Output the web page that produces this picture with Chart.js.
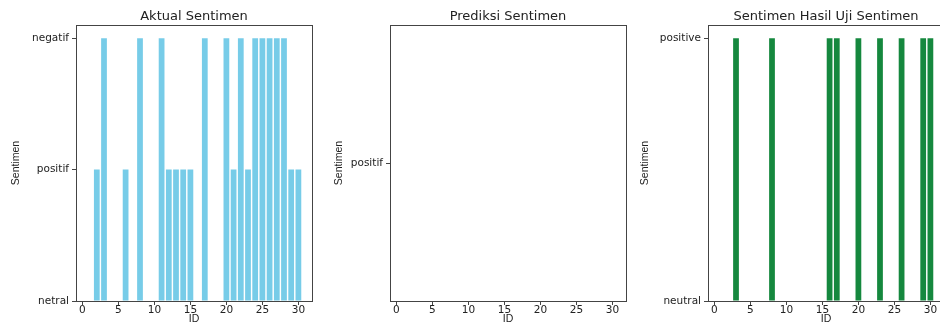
<!DOCTYPE html>
<html>
<head>
<meta charset="utf-8">
<script src="https://cdn.jsdelivr.net/npm/chart.js@4/dist/chart.umd.min.js"></script>
<style>
  html, body { margin: 0; padding: 0; background: #fff; overflow: hidden; }
  body { width: 940px; height: 325px; position: relative; }
  .panel { position: absolute; top: 0; width: 320px; height: 325px; }
</style>
</head>
<body>
<div class="panel" style="left:0px"><canvas id="aktualChart"></canvas></div>
<div class="panel" style="left:314px"><canvas id="prediksiChart"></canvas></div>
<div class="panel" style="left:632px"><canvas id="hasilChart"></canvas></div>
<script>
// IDs on the x axis
const ids = [1, 2, 3, 4, 5, 6, 7, 8, 9, 10, 11, 12, 13, 14, 15,
             16, 17, 18, 19, 20, 21, 22, 23, 24, 25, 26, 27, 28, 29, 30];
const xTicks = [0, 5, 10, 15, 20, 25, 30];

// category order = order of first appearance (matplotlib categorical axis)
const aktualCats = ['netral', 'positif', 'negatif'];
const aktual = ['netral', 'positif', 'negatif', 'netral', 'netral', 'positif', 'netral', 'negatif', 'netral', 'netral',
                'negatif', 'positif', 'positif', 'positif', 'positif', 'netral', 'negatif', 'netral', 'netral', 'negatif',
                'positif', 'negatif', 'positif', 'negatif', 'negatif', 'negatif', 'negatif', 'negatif', 'positif', 'positif'];

const prediksiCats = ['positif'];
const prediksi = ['positif', 'positif', 'positif', 'positif', 'positif', 'positif', 'positif', 'positif', 'positif', 'positif',
                  'positif', 'positif', 'positif', 'positif', 'positif', 'positif', 'positif', 'positif', 'positif', 'positif',
                  'positif', 'positif', 'positif', 'positif', 'positif', 'positif', 'positif', 'positif', 'positif', 'positif'];

const hasilCats = ['neutral', 'positive'];
const hasil = ['neutral', 'neutral', 'positive', 'neutral', 'neutral', 'neutral', 'neutral', 'positive', 'neutral', 'neutral',
               'neutral', 'neutral', 'neutral', 'neutral', 'neutral', 'positive', 'positive', 'neutral', 'neutral', 'positive',
               'neutral', 'neutral', 'positive', 'neutral', 'neutral', 'positive', 'neutral', 'neutral', 'positive', 'positive'];

const tickFont = { family: 'DejaVu Sans', size: 10.5 };
const labelFont = { family: 'Liberation Sans Narrow, Liberation Sans, sans-serif', size: 10.5 };

// frame around the axes like matplotlib spines
const framePlugin = {
    id: 'frame',
    afterDraw(chart) {
        const a = chart.chartArea;
        const ctx = chart.ctx;
        ctx.save();
        ctx.strokeStyle = '#444';
        ctx.lineWidth = 1;
        ctx.strokeRect(a.left + 0.5, a.top + 0.5, a.right - a.left, a.bottom - a.top);
        ctx.restore();
    }
};

function makeChart(id, title, cats, values, color, yMin, yMax, yTitlePad) {
    const ctx = document.getElementById(id).getContext('2d');
    return new Chart(ctx, {
        type: 'bar',
        data: {
            datasets: [{
                data: ids.map((d, i) => ({ x: d, y: cats.indexOf(values[i]) })),
                backgroundColor: color,
                borderWidth: 0,
                categoryPercentage: 1.0,
                barPercentage: 0.8
            }]
        },
        options: {
            responsive: true,
            maintainAspectRatio: false,
            animation: false,
            layout: { padding: { left: 0, right: 8, top: 0, bottom: 0 } },
            plugins: {
                legend: { display: false },
                tooltip: { enabled: false },
                title: {
                    display: true,
                    fullSize: false,
                    text: title,
                    color: '#222',
                    font: { family: 'DejaVu Sans', size: 13, weight: 'normal' },
                    padding: { top: 9, bottom: 0.4 }
                }
            },
            scales: {
                x: {
                    type: 'linear',
                    offset: false,
                    min: -0.89,
                    max: 31.89,
                    afterBuildTicks: s => { s.ticks = xTicks.map(v => ({ value: v })); },
                    afterFit: s => { s.height = 24; },
                    grid: { display: true, offset: false, drawOnChartArea: false, drawTicks: true, tickLength: 4, color: '#444' },
                    border: { display: true, color: '#444' },
                    ticks: { color: '#222', font: tickFont, padding: -1, maxRotation: 0 },
                    title: { display: true, text: 'ID', color: '#222', font: labelFont, padding: 0 }
                },
                y: {
                    type: 'linear',
                    min: yMin,
                    max: yMax,
                    afterBuildTicks: s => { s.ticks = cats.map((c, i) => ({ value: i })); },
                    afterFit: s => { s.width = 76; },
                    grid: { display: true, drawOnChartArea: false, drawTicks: true, tickLength: 4, color: '#444' },
                    border: { display: true, color: '#444' },
                    ticks: {
                        color: '#222',
                        font: tickFont,
                        padding: 3,
                        callback: v => cats[v]
                    },
                    title: { display: true, text: 'Sentimen', color: '#222', font: labelFont, padding: { top: yTitlePad, bottom: 0 } }
                }
            }
        },
        plugins: [framePlugin]
    });
}

makeChart('aktualChart', 'Aktual Sentimen', aktualCats, aktual, '#77cce8', 0, 2.1, 10);
makeChart('prediksiChart', 'Prediksi Sentimen', prediksiCats, prediksi, '#77cce8', -1, 1, 19);
makeChart('hasilChart', 'Sentimen Hasil Uji Sentimen', hasilCats, hasil, '#15883e', 0, 1.05, 7);
</script>
</body>
</html>
